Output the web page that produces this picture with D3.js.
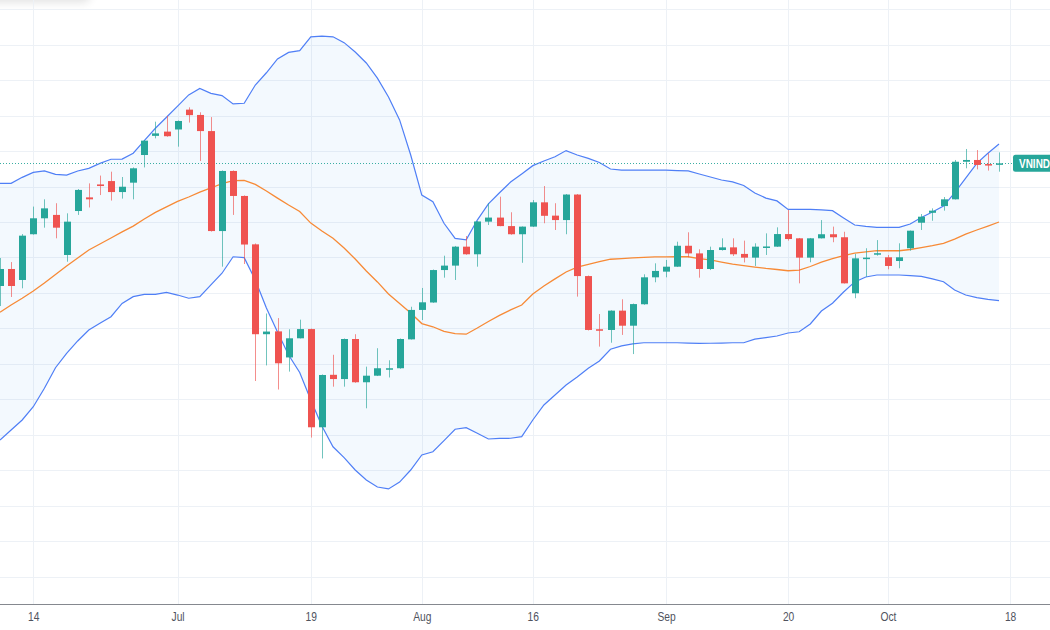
<!DOCTYPE html>
<html><head><meta charset="utf-8">
<script src="https://cdn.jsdelivr.net/npm/d3@7"></script>
<style>
html,body{margin:0;padding:0;background:#fff;overflow:hidden}
svg{display:block}
</style></head>
<body>
<svg id="chart" width="1050" height="630"></svg>
<script>
// ---------- DATA ----------
const dates = [
"2021-06-09","2021-06-10","2021-06-11","2021-06-14","2021-06-15","2021-06-16","2021-06-17","2021-06-18",
"2021-06-21","2021-06-22","2021-06-23","2021-06-24","2021-06-25","2021-06-28","2021-06-29","2021-06-30",
"2021-07-01","2021-07-02","2021-07-05","2021-07-06","2021-07-07","2021-07-08","2021-07-09","2021-07-12",
"2021-07-13","2021-07-14","2021-07-15","2021-07-16","2021-07-19","2021-07-20","2021-07-21","2021-07-22",
"2021-07-23","2021-07-26","2021-07-27","2021-07-28","2021-07-29","2021-07-30",
"2021-08-02","2021-08-03","2021-08-04","2021-08-05","2021-08-06","2021-08-09","2021-08-10","2021-08-11",
"2021-08-12","2021-08-13","2021-08-16","2021-08-17","2021-08-18","2021-08-19","2021-08-20","2021-08-23",
"2021-08-24","2021-08-25","2021-08-26","2021-08-27","2021-08-30","2021-08-31",
"2021-09-01","2021-09-06","2021-09-07","2021-09-08","2021-09-09","2021-09-10","2021-09-13","2021-09-14",
"2021-09-15","2021-09-16","2021-09-17","2021-09-20","2021-09-21","2021-09-22","2021-09-23","2021-09-24",
"2021-09-27","2021-09-28","2021-09-29","2021-09-30",
"2021-10-01","2021-10-04","2021-10-05","2021-10-06","2021-10-07","2021-10-08","2021-10-11","2021-10-12",
"2021-10-13","2021-10-14","2021-10-15"];

const open = [1323.9,1333.5,1327.3,1353.1,1362.1,1364.0,1341.4,1366.2,1373.9,1381.2,1383.1,1376.9,1382.2,1397.8,1408.6,1411.0,
1412.2,1423.4,1420.4,1411.3,1354.9,1388.8,1374.7,1347.4,1296.7,1298.3,1283.6,1294.4,1299.6,1244.2,1273.8,1271.4,
1294.0,1269.6,1273.3,1277.1,1277.5,1293.8,
1310.4,1314.6,1332.9,1335.4,1346.1,1341.8,1360.2,1362.5,1357.7,1353.1,1357.4,1371.1,1363.6,1361.1,1375.5,1329.5,
1299.5,1299.1,1310.0,1301.5,1313.6,1328.8,
1332.0,1334.8,1346.6,1342.3,1333.5,1344.2,1345.7,1342.0,1339.9,1345.9,1346.1,1353.2,1350.8,1339.9,1350.8,1353.1,
1351.4,1319.8,1339.1,1342.2,
1340.1,1338.0,1345.2,1359.6,1365.2,1369.0,1372.8,1394.0,1395.0,1392.7,1392.3];

const high = [1339.7,1337.4,1353.2,1368.7,1372.8,1370.6,1364.9,1378.6,1381.8,1386.2,1388.4,1385.4,1390.8,1406.3,1416.6,1419.9,
1417.3,1424.7,1421.9,1419.2,1389.1,1389.1,1375.0,1347.9,1308.4,1305.8,1299.5,1304.9,1299.9,1274.0,1285.1,1294.3,
1296.7,1278.4,1288.8,1282.0,1294.3,1312.2,
1322.8,1333.2,1341.0,1346.5,1352.1,1360.6,1370.6,1374.3,1365.5,1357.5,1372.4,1380.3,1370.6,1375.8,1375.8,1329.8,
1308.1,1310.2,1316.4,1314.0,1330.5,1336.7,
1338.6,1348.9,1354.2,1344.6,1346.1,1350.8,1350.8,1349.5,1348.0,1353.6,1357.0,1366.8,1351.0,1351.0,1361.1,1357.4,
1354.5,1342.0,1345.2,1349.8,
1341.4,1348.0,1355.2,1364.5,1367.7,1374.1,1395.0,1401.2,1400.6,1398.8,1399.3];

const low = [1312.6,1317.7,1322.6,1352.9,1356.8,1350.8,1337.6,1364.0,1368.2,1375.2,1372.1,1373.2,1372.8,1390.8,1407.2,1408.1,
1402.5,1416.1,1394.4,1354.6,1334.8,1364.0,1336.3,1270.3,1279.1,1265.5,1275.6,1294.3,1238.4,1226.6,1267.1,1267.1,
1269.3,1254.9,1273.1,1272.3,1277.2,1293.7,
1304.7,1314.4,1328.6,1327.3,1341.5,1334.8,1358.3,1357.6,1352.8,1337.0,1357.2,1359.3,1355.5,1353.1,1317.9,1298.8,
1289.7,1291.9,1296.3,1285.5,1313.3,1326.0,
1328.8,1334.6,1340.1,1328.6,1332.9,1343.9,1340.8,1337.2,1335.2,1341.4,1345.9,1349.5,1325.4,1337.3,1350.7,1348.6,
1325.3,1317.0,1329.1,1341.0,
1333.3,1333.9,1343.8,1355.5,1360.7,1366.4,1372.7,1390.3,1389.7,1389.0,1388.4];

const close = [1333.5,1323.9,1352.3,1362.1,1367.7,1356.8,1360.2,1378.1,1372.8,1380.3,1376.9,1379.9,1390.3,1405.9,1410.0,1408.4,
1417.0,1420.3,1411.3,1354.9,1388.8,1374.7,1347.3,1296.7,1298.2,1280.3,1294.4,1299.6,1244.2,1273.7,1271.4,1294.0,
1269.6,1273.3,1277.5,1277.5,1294.0,1310.4,
1314.7,1332.9,1335.4,1346.1,1341.8,1360.3,1362.5,1357.7,1353.1,1357.4,1371.1,1363.5,1361.1,1375.5,1329.5,1299.1,
1298.7,1310.0,1301.5,1313.7,1328.8,1332.4,
1334.8,1346.6,1342.3,1333.5,1344.2,1345.7,1341.8,1339.9,1346.1,1346.2,1353.2,1350.4,1339.9,1350.8,1353.1,1351.4,
1325.4,1339.5,1339.9,1342.4,
1335.2,1340.1,1355.1,1363.0,1366.4,1372.8,1394.0,1395.0,1392.2,1392.4,1393.1];

const bbUpper = [1381.8,1381.8,1385.2,1388.0,1388.8,1386.9,1386.5,1388.8,1390.3,1393.1,1395.4,1395.5,1398.8,1405.9,1412.9,1419.1,
1425.4,1431.7,1435.4,1432.6,1431.3,1426.6,1427.0,1437.3,1444.2,1452.0,1455.7,1456.7,1464.5,1464.9,1464.5,1461.2,
1455.9,1449.7,1441.2,1430.5,1417.6,1397.8,
1375.2,1371.5,1359.3,1350.8,1349.9,1361.1,1370.2,1376.5,1382.6,1387.1,1391.8,1394.4,1396.8,1400.3,1397.8,1395.9,
1393.6,1389.9,1389.3,1389.3,1389.3,1389.3,
1389.3,1389.0,1388.8,1387.1,1385.4,1383.7,1382.6,1380.6,1376.4,1373.5,1371.9,1367.1,1367.2,1367.1,1366.8,1366.4,
1362.3,1358.3,1357.5,1357.0,
1357.0,1357.0,1358.9,1362.5,1365.7,1369.0,1376.4,1384.8,1393.1,1398.8,1404.0];

const bbBasis = [1309.1,1313.2,1317.0,1321.1,1325.6,1330.4,1335.2,1339.7,1344.2,1347.6,1351.0,1354.4,1357.7,1361.7,1365.4,1368.5,
1371.6,1374.1,1376.9,1379.2,1381.7,1383.4,1383.5,1381.2,1377.5,1373.5,1369.6,1365.9,1359.4,1354.9,1350.8,1345.3,
1339.1,1332.4,1326.2,1319.4,1314.0,1308.7,
1302.7,1300.9,1298.3,1297.0,1296.7,1300.2,1303.9,1307.3,1310.4,1313.2,1319.4,1323.9,1327.9,1331.8,1334.6,1336.1,
1337.6,1339.0,1339.4,1339.8,1340.1,1340.3,
1340.3,1340.4,1340.4,1339.4,1338.6,1337.4,1336.3,1335.4,1334.6,1333.8,1333.2,1332.5,1332.9,1334.9,1337.4,1339.4,
1341.1,1342.4,1343.1,1343.8,
1343.8,1343.8,1344.5,1345.6,1346.7,1348.0,1350.4,1353.2,1355.5,1357.7,1360.0];

const bbLower = [1237.0,1242.7,1248.3,1255.8,1266.2,1277.8,1285.9,1292.9,1299.1,1302.9,1306.6,1314.1,1317.9,1319.2,1319.2,1320.3,
1318.8,1317.0,1317.9,1324.5,1331.1,1340.4,1339.9,1327.3,1311.5,1298.0,1285.0,1275.1,1259.6,1244.9,1233.2,1227.1,
1220.1,1214.5,1210.5,1209.4,1213.3,1220.1,
1228.6,1230.4,1236.7,1243.1,1244.0,1240.8,1237.6,1237.9,1238.0,1238.9,1248.3,1256.8,1262.4,1268.0,1272.6,1277.5,
1281.6,1288.2,1290.1,1291.2,1291.9,1291.9,
1291.9,1291.9,1291.7,1291.5,1291.6,1291.7,1291.9,1291.9,1293.9,1294.8,1295.7,1297.4,1298.1,1302.5,1309.8,1314.2,
1320.5,1326.2,1329.0,1330.1,
1330.1,1330.1,1329.8,1329.3,1327.9,1326.3,1321.6,1318.8,1317.3,1316.4,1315.7];

const tickDates  = ["2021-06-14","2021-07-01","2021-07-19","2021-08-02","2021-08-16","2021-09-01","2021-09-20","2021-10-01","2021-10-18"];
const tickLabels = ["14","Jul","19","Aug","16","Sep","20","Oct","18"];
const priceGrid  = [1160,1180,1200,1220,1240,1260,1280,1300,1320,1340,1360,1380,1400,1420,1440,1460,1480];
const symbolName = "VNINDEX";

// ---------- LAYOUT ----------
const W = 1050, H = 630, plotBottom = 604;
const svg = d3.select("#chart");
const FONT = "'Liberation Sans','Roboto','DejaVu Sans',sans-serif";

const bars = dates.map((d,i)=>({d, i, o:open[i], h:high[i], l:low[i], c:close[i],
  up:bbUpper[i], mid:bbBasis[i], lo:bbLower[i]}));

// index position for a date (future dates go after the last bar)
const idxOf = d => { const k = dates.indexOf(d); return k >= 0 ? k : dates.length; };

const x = d3.scaleLinear().domain([0, dates.length]).range([0, 1010.1]);
const y = d3.scaleLinear().domain([1144.5, 1485.25]).range([plotBottom, 0]);

const gridColor = "#edf1f6";

// top-left shadow blob (cut-off overlay)
const defs = svg.append("defs");
defs.append("filter").attr("id","blur").attr("x","-50%").attr("y","-200%").attr("width","200%").attr("height","500%")
  .append("feGaussianBlur").attr("stdDeviation", 5);
svg.append("rect").attr("x",-20).attr("y",-14).attr("width",110).attr("height",16)
  .attr("rx",6).attr("fill","#000").attr("opacity",0.12).attr("filter","url(#blur)");

// clip for plot
defs.append("clipPath").attr("id","plotClip").append("rect")
  .attr("x",0).attr("y",0).attr("width",W).attr("height",plotBottom);

// horizontal grid
svg.append("g").selectAll("line").data(priceGrid).join("line")
  .attr("x1",0).attr("x2",W)
  .attr("y1",d=>Math.round(y(d))+0.5).attr("y2",d=>Math.round(y(d))+0.5)
  .attr("stroke",gridColor).attr("stroke-width",1);

// vertical grid
svg.append("g").selectAll("line").data(tickDates).join("line")
  .attr("x1",d=>Math.round(x(idxOf(d)))+0.5).attr("x2",d=>Math.round(x(idxOf(d)))+0.5)
  .attr("y1",0).attr("y2",plotBottom)
  .attr("stroke",gridColor).attr("stroke-width",1);

const plot = svg.append("g").attr("clip-path","url(#plotClip)");

// Bollinger fill
const area = d3.area().x(b=>x(b.i)).y0(b=>y(b.lo)).y1(b=>y(b.up));
plot.append("path").datum(bars).attr("d",area).attr("fill","rgba(33,150,243,0.055)");

const lineOf = key => d3.line().x(b=>x(b.i)).y(b=>y(b[key]));
plot.append("path").datum(bars).attr("d",lineOf("up")).attr("fill","none").attr("stroke","#4f7ff6").attr("stroke-width",1.2);
plot.append("path").datum(bars).attr("d",lineOf("lo")).attr("fill","none").attr("stroke","#4f7ff6").attr("stroke-width",1.2);
plot.append("path").datum(bars).attr("d",lineOf("mid")).attr("fill","none").attr("stroke","#f78a36").attr("stroke-width",1.3);

// last price dotted line
const last = bars[bars.length-1];
plot.append("line").attr("x1",0).attr("x2",W)
  .attr("y1",Math.round(y(last.c))+0.5).attr("y2",Math.round(y(last.c))+0.5)
  .attr("stroke","#26a69a").attr("stroke-width",1).attr("stroke-dasharray","1,2").attr("opacity",0.9);

// candles
const GREEN = "#26a69a", RED = "#ef5350";
const bodyW = 7;
const cg = plot.append("g");
cg.selectAll("line.wick").data(bars).join("line").attr("class","wick")
  .attr("x1",b=>Math.round(x(b.i))+0.5).attr("x2",b=>Math.round(x(b.i))+0.5)
  .attr("y1",b=>y(b.h)).attr("y2",b=>y(b.l))
  .attr("stroke",b=>b.c>=b.o?GREEN:RED).attr("stroke-width",1).attr("opacity",0.65);
cg.selectAll("rect.body").data(bars).join("rect").attr("class","body")
  .attr("x",b=>Math.round(x(b.i))+0.5-bodyW/2)
  .attr("width",bodyW)
  .attr("y",b=>y(Math.max(b.o,b.c)))
  .attr("height",b=>Math.max(1.5, Math.abs(y(b.o)-y(b.c))))
  .attr("fill",b=>b.c>=b.o?GREEN:RED);

// symbol label on the right (cut by the right edge as in the reference)
const ly = y(last.c);
svg.append("rect").attr("x",1013).attr("y",ly-8.5).attr("width",60).attr("height",17).attr("rx",2.5)
  .attr("fill","#26a69a");
svg.append("g").attr("transform",`translate(1019,${ly+4.5}) scale(0.8,1)`)
  .append("text").attr("x",0).attr("y",0).text(symbolName)
  .attr("fill","#fff").attr("font-family",FONT).attr("font-size",12.5).attr("font-weight",600);

// x axis
svg.append("line").attr("x1",0).attr("x2",W).attr("y1",plotBottom+0.5).attr("y2",plotBottom+0.5)
  .attr("stroke","#85888f").attr("stroke-width",1);
const xAxis = d3.axisBottom(x)
  .tickValues(tickDates.map(idxOf))
  .tickFormat((v,k)=>tickLabels[k])
  .tickSize(0).tickPadding(8);
const ga = svg.append("g").attr("transform",`translate(0,${plotBottom})`).call(xAxis);
ga.select(".domain").remove();
ga.selectAll("text").attr("font-family",FONT).attr("font-size",12.5).attr("fill","#50535e")
  .attr("transform","scale(0.82,1)");
</script>
</body></html>
